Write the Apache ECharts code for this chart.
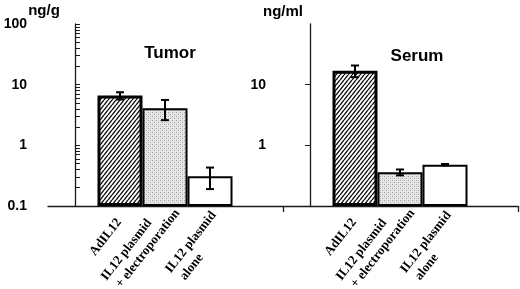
<!DOCTYPE html>
<html>
<head>
<meta charset="utf-8">
<script src="https://cdn.jsdelivr.net/npm/echarts@6/dist/echarts.min.js"></script>
<style>
html,body{margin:0;padding:0;background:#fff;}
#chart{width:520px;height:289px;}
</style>
</head>
<body>
<div id="chart"></div>
<script>
// ---- data ----
const categories = ['AdIL12', 'IL12 plasmid\n+ electroporation', 'IL12 plasmid\nalone'];
const categoryPositions = [1, 2, 3];
const tumorValues = [6.6, 4.1, 0.31];
const tumorErrors = [0.9, 1.5, 0.12];
const serumValues = [17, 0.36, 0.48];
const serumErrors = [3.7, 0.04, 0.012];
const leftTickValues = [0.1, 1, 10, 100];
const leftTickLabels = ['0.1', '1', '10', '100'];
const rightTickValues = [1, 10];
const rightTickLabels = ['1', '10'];
const panelTitles = ['Tumor', 'Serum'];
const unitNames = ['ng/g', 'ng/ml'];

// ---- helpers ----
const LOG_MIN = 0.1, LOG_MAX = 100;
const t = v => Math.log10(v / LOG_MIN);   // log scale mapped onto a value axis starting at 0.1
const minorTicks = [];
[0.1, 1, 10].forEach(d => { for (let k = 1; k <= 9; k++) minorTicks.push(t(k * d)); });
minorTicks.push(t(100));

function makeHatch() {
  const c = document.createElement('canvas');
  const w = 4, h = 5; c.width = w; c.height = h;
  const g = c.getContext('2d');
  g.fillStyle = '#fff'; g.fillRect(0, 0, w, h);
  g.strokeStyle = '#111'; g.lineWidth = 1.4;
  g.beginPath();
  g.moveTo(0, h); g.lineTo(w, 0);
  g.moveTo(-w, h); g.lineTo(0, 0);
  g.moveTo(w, h); g.lineTo(2 * w, 0);
  g.stroke();
  return c;
}
function makeStipple() {
  const c = document.createElement('canvas');
  c.width = 4; c.height = 4;
  const g = c.getContext('2d');
  g.fillStyle = '#e8e8e8'; g.fillRect(0, 0, 4, 4);
  g.fillStyle = '#a0a0a0'; g.fillRect(0, 0, 1, 1); g.fillRect(2, 2, 1, 1);
  g.fillStyle = '#c8c8c8'; g.fillRect(2, 0, 1, 1); g.fillRect(0, 2, 1, 1);
  return c;
}
const barStyles = [
  { color: { image: makeHatch(), repeat: 'repeat' }, borderColor: '#000', borderWidth: 3 },
  { color: { image: makeStipple(), repeat: 'repeat' }, borderColor: '#000', borderWidth: 2 },
  { color: '#fff', borderColor: '#000', borderWidth: 2 }
];

const XMIN = -0.6, XMAX = 4.622;
const PX_PER_UNIT = 235 / (XMAX - XMIN);
const axisColor = '#1a1a1a';

// per-label placement: horizontal nudge (px) and label margin (px)
const labelPlacement = [{ dx: -1, margin: 14 }, { dx: 6, margin: 0 }, { dx: 10, margin: 12 }];
const labelFont = { fontFamily: 'Liberation Serif', fontWeight: 'bold', fontSize: 13, lineHeight: 16, color: '#000', align: 'left' };

function mainXAxis(gridIndex, endTicks) {
  return {
    type: 'value', gridIndex, min: XMIN, max: XMAX, position: 'bottom', offset: 0,
    splitLine: { show: false },
    axisLine: { show: true, onZero: false, lineStyle: { color: axisColor, width: 1.3 } },
    axisTick: endTicks ? { show: true, customValues: [XMIN, XMAX], length: 6, lineStyle: { color: axisColor, width: 1.3 } } : { show: false },
    axisLabel: { show: false }
  };
}
function labelXAxis(gridIndex, i) {
  const p = labelPlacement[i];
  return {
    type: 'value', gridIndex, min: XMIN, max: XMAX, position: 'bottom', offset: 0,
    splitLine: { show: false },
    axisLine: { show: false, onZero: false },
    axisTick: { show: false },
    axisLabel: {
      show: true, customValues: [categoryPositions[i] + p.dx / PX_PER_UNIT], rotate: 52, margin: p.margin,
      hideOverlap: false,
      formatter: () => categories[i].split('\n').map((s, j) => '{a|' + (j > 0 ? '\u00a0' : '') + s + '}').join('\n'),
      rich: { a: labelFont }
    }
  };
}
function tickLabel(vals, labs) {
  return v => {
    const i = vals.findIndex(tv => Math.abs(t(tv) - v) < 1e-6);
    return i < 0 ? '' : labs[i];
  };
}
function yAxisCfg(gridIndex, tickVals, tickLabs, ticks, inside, margin) {
  return {
    type: 'value', gridIndex, min: 0, max: t(LOG_MAX), position: 'left',
    splitLine: { show: false },
    axisLine: { show: true, lineStyle: { color: axisColor, width: 1.3 } },
    axisTick: { show: true, inside: inside, length: 5, customValues: ticks, lineStyle: { color: axisColor, width: 1 } },
    axisLabel: {
      show: true, customValues: tickVals.map(t), margin: margin,
      formatter: tickLabel(tickVals, tickLabs),
      fontFamily: 'Liberation Sans', fontWeight: 'bold', fontSize: 14, color: '#000'
    }
  };
}
function barSeries(xIdx, yIdx, values) {
  return {
    type: 'bar', xAxisIndex: xIdx, yAxisIndex: yIdx, barWidth: 45,
    data: values.map((v, i) => ({ value: [categoryPositions[i], t(v)], itemStyle: barStyles[i] })),
    z: 2
  };
}
function errSeries(xIdx, yIdx, values, errs) {
  return {
    type: 'custom', xAxisIndex: xIdx, yAxisIndex: yIdx, z: 5,
    data: values.map((v, i) => [categoryPositions[i], t(v + errs[i]), t(v - errs[i])]),
    renderItem: (params, api) => {
      const hi = api.coord([api.value(0), api.value(1)]);
      const lo = api.coord([api.value(0), api.value(2)]);
      const w = 4;
      const st = { stroke: '#000', lineWidth: 2 };
      return {
        type: 'group', children: [
          { type: 'line', shape: { x1: hi[0], y1: hi[1], x2: lo[0], y2: lo[1] }, style: st },
          { type: 'line', shape: { x1: hi[0] - w, y1: hi[1], x2: hi[0] + w, y2: hi[1] }, style: st },
          { type: 'line', shape: { x1: lo[0] - w, y1: lo[1], x2: lo[0] + w, y2: lo[1] }, style: st }
        ]
      };
    }
  };
}

const titleFont = { fontFamily: 'Liberation Sans', fontWeight: 'bold', color: '#000' };
const xAxes = [
  mainXAxis(0, false), labelXAxis(0, 0), labelXAxis(0, 1), labelXAxis(0, 2),
  mainXAxis(1, true), labelXAxis(1, 0), labelXAxis(1, 1), labelXAxis(1, 2)
];
const chart = echarts.init(document.getElementById('chart'), null, { renderer: 'canvas' });
chart.setOption({
  animation: false,
  backgroundColor: '#fff',
  title: [
    { text: panelTitles[0], left: 165, top: 40, textAlign: 'center', textStyle: Object.assign({ fontSize: 17 }, titleFont) },
    { text: panelTitles[1], left: 412, top: 43, textAlign: 'center', textStyle: Object.assign({ fontSize: 17 }, titleFont) },
    { text: unitNames[0], left: 44, top: 3, padding: 0, textAlign: 'center', textStyle: Object.assign({ fontSize: 15 }, titleFont) },
    { text: unitNames[1], left: 283, top: 4, padding: 0, textAlign: 'center', textStyle: Object.assign({ fontSize: 15 }, titleFont) }
  ],
  grid: [
    { left: 48, width: 235, top: 24, height: 182, containLabel: false, outerBoundsMode: 'none' },
    { left: 283, width: 235, top: 24, height: 182, containLabel: false, outerBoundsMode: 'none' }
  ],
  xAxis: xAxes,
  yAxis: [
    yAxisCfg(0, leftTickValues, leftTickLabels, minorTicks, true, 21),
    yAxisCfg(1, rightTickValues, rightTickLabels, rightTickValues.map(t), false, 17)
  ],
  series: [
    barSeries(0, 0, tumorValues), errSeries(0, 0, tumorValues, tumorErrors),
    barSeries(4, 1, serumValues), errSeries(4, 1, serumValues, serumErrors)
  ]
});
</script>
</body>
</html>
